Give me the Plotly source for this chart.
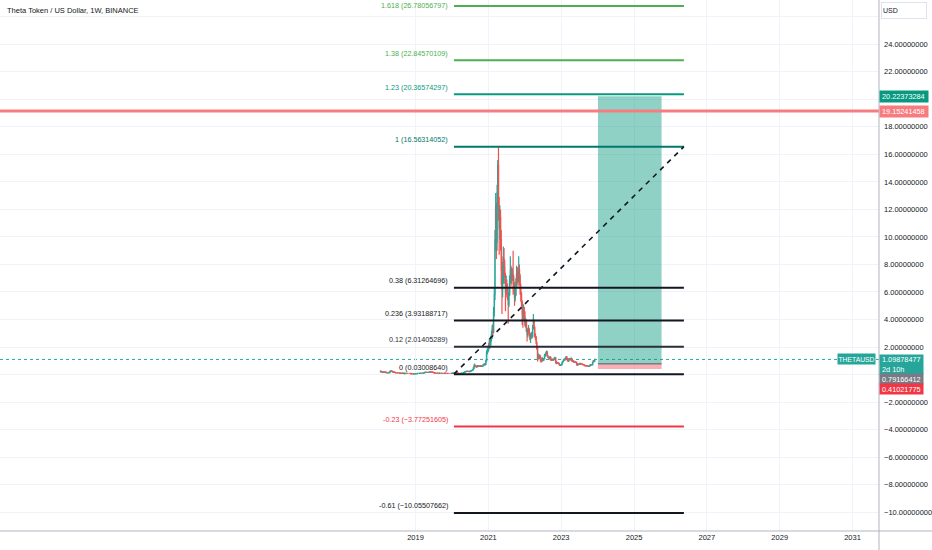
import plotly.graph_objects as go
import pandas as pd

# ---------------- data ----------------
title_text = "Theta Token / US Dollar, 1W, BINANCE"
first_week = "2018-01-15"
first_open = 0.20

closes = [
    # 2018
    0.24, 0.22, 0.17, 0.15, 0.19, 0.18, 0.16, 0.17, 0.13, 0.14, 0.12,
    0.12, 0.13, 0.20, 0.25, 0.27, 0.24, 0.21, 0.16, 0.17, 0.16, 0.13, 0.12, 0.12,
    0.13, 0.12, 0.12, 0.11, 0.10, 0.09, 0.08, 0.09, 0.10, 0.08, 0.07, 0.08, 0.09,
    0.09, 0.08, 0.08, 0.08, 0.08, 0.08, 0.07, 0.05, 0.05, 0.045, 0.04, 0.05, 0.055, 0.06,
    # 2019
    0.06, 0.07, 0.08, 0.08, 0.08, 0.09, 0.11, 0.11, 0.10, 0.10, 0.11, 0.12,
    0.15, 0.17, 0.17, 0.15, 0.15, 0.16, 0.15, 0.17, 0.20, 0.19, 0.18, 0.17, 0.16,
    0.14, 0.12, 0.11, 0.10, 0.10, 0.11, 0.10, 0.10, 0.09, 0.10, 0.10, 0.10, 0.09, 0.09,
    0.09, 0.08, 0.10, 0.09, 0.09, 0.09, 0.08, 0.08, 0.08, 0.08, 0.08, 0.08, 0.09,
    # 2020
    0.10, 0.11, 0.10, 0.11, 0.11, 0.14, 0.12, 0.10, 0.10, 0.06, 0.07, 0.07, 0.08,
    0.10, 0.10, 0.11, 0.14, 0.17, 0.20, 0.22, 0.23, 0.24, 0.23, 0.22, 0.21, 0.23,
    0.26, 0.28, 0.30, 0.35, 0.45, 0.60, 0.65, 0.62, 0.58, 0.58, 0.62, 0.60, 0.62,
    0.60, 0.65, 0.62, 0.60, 0.62, 0.70, 0.72, 0.70, 0.76, 1.00, 1.60, 1.70, 1.90,
    # 2021
    2.10, 2.40, 2.20, 2.60, 2.90, 3.40, 3.10, 4.50, 5.80, 9.80, 12.20, 9.60, 13.20,
    15.20, 12.20, 10.60, 11.40, 9.80, 7.60, 6.20, 6.90, 8.40, 7.80, 7.10, 6.00, 6.60,
    6.20, 5.80, 5.10, 5.90, 6.80, 7.60, 6.90, 7.10, 7.30, 6.90, 6.40, 5.60, 5.80,
    6.70, 7.30, 7.00, 6.90, 7.60, 7.10, 6.20, 5.80, 5.20, 4.40, 4.10, 4.60, 4.20,
    # 2022
    3.60, 3.90, 3.20, 2.90, 3.20, 3.30, 2.90, 2.70, 2.80, 2.90, 2.80, 3.40, 3.90,
    3.40, 2.80, 2.70, 2.30, 1.90, 1.20, 1.30, 1.20, 1.35, 1.20, 1.05, 1.00, 1.10,
    1.05, 1.15, 1.35, 1.40, 1.50, 1.65, 1.35, 1.25, 1.20, 1.15, 1.25, 1.05, 1.05,
    1.10, 1.05, 1.10, 1.15, 1.20, 0.95, 0.85, 0.82, 0.84, 0.82, 0.72, 0.66, 0.68,
    # 2023
    0.72, 0.85, 0.95, 1.05, 1.10, 1.08, 1.20, 1.28, 1.15, 1.05, 1.00, 1.15, 1.10,
    1.08, 1.15, 1.00, 0.98, 0.98, 0.90, 0.92, 0.90, 0.88, 0.78, 0.70, 0.76, 0.74,
    0.74, 0.80, 0.78, 0.76, 0.74, 0.72, 0.70, 0.66, 0.65, 0.63, 0.62, 0.63, 0.61,
    0.60, 0.62, 0.66, 0.72, 0.70, 0.72, 0.90, 1.00, 0.98, 1.09878477,
]

highs = [
    # 2018
    0.30, 0.27, 0.23, 0.18, 0.20, 0.21, 0.19, 0.18, 0.17, 0.15, 0.15,
    0.13, 0.14, 0.21, 0.28, 0.29, 0.28, 0.25, 0.22, 0.18, 0.18, 0.17, 0.14, 0.13,
    0.14, 0.14, 0.13, 0.12, 0.12, 0.10, 0.10, 0.09, 0.11, 0.10, 0.09, 0.09, 0.10,
    0.10, 0.09, 0.09, 0.09, 0.09, 0.09, 0.08, 0.07, 0.06, 0.055, 0.05, 0.055, 0.06, 0.065,
    # 2019
    0.07, 0.08, 0.09, 0.09, 0.09, 0.10, 0.12, 0.12, 0.12, 0.11, 0.12, 0.13,
    0.16, 0.19, 0.19, 0.18, 0.16, 0.17, 0.18, 0.18, 0.22, 0.22, 0.20, 0.19, 0.18,
    0.17, 0.15, 0.13, 0.12, 0.11, 0.12, 0.12, 0.11, 0.11, 0.11, 0.11, 0.11, 0.10, 0.10,
    0.10, 0.09, 0.11, 0.11, 0.10, 0.10, 0.09, 0.09, 0.09, 0.09, 0.09, 0.09, 0.10,
    # 2020
    0.11, 0.12, 0.12, 0.12, 0.13, 0.16, 0.15, 0.13, 0.11, 0.11, 0.08, 0.08, 0.09,
    0.11, 0.11, 0.12, 0.15, 0.19, 0.22, 0.25, 0.26, 0.30, 0.26, 0.25, 0.24, 0.24,
    0.27, 0.30, 0.32, 0.38, 0.55, 0.75, 0.80, 0.70, 0.68, 0.66, 0.70, 0.68, 0.66,
    0.66, 0.68, 0.70, 0.66, 0.66, 0.75, 0.80, 0.82, 0.80, 1.10, 1.75, 1.90, 2.10,
    # 2021
    2.30, 2.60, 2.60, 2.80, 3.20, 3.60, 3.70, 4.90, 6.30, 10.50, 13.20, 12.50, 13.80,
    15.60, 16.56, 12.90, 12.30, 12.00, 10.50, 8.60, 8.20, 9.30, 9.20, 8.30, 7.40, 7.20,
    6.90, 6.60, 6.00, 6.30, 7.20, 8.60, 7.90, 7.80, 7.70, 9.00, 7.20, 6.70, 6.40,
    7.00, 7.90, 7.80, 7.40, 8.60, 8.00, 7.30, 6.60, 6.00, 5.40, 4.80, 5.10, 4.90,
    # 2022
    4.60, 4.10, 4.00, 3.30, 3.40, 3.60, 3.40, 3.00, 3.00, 3.10, 3.10, 3.60, 4.40,
    4.00, 3.50, 3.00, 2.80, 2.40, 2.00, 1.55, 1.45, 1.45, 1.40, 1.25, 1.12, 1.25,
    1.20, 1.20, 1.50, 1.55, 1.65, 1.75, 1.70, 1.40, 1.30, 1.30, 1.35, 1.25, 1.15,
    1.15, 1.15, 1.15, 1.25, 1.30, 1.25, 1.00, 0.92, 0.90, 0.90, 0.85, 0.74, 0.72,
    # 2023
    0.74, 0.88, 0.98, 1.10, 1.15, 1.16, 1.25, 1.35, 1.30, 1.18, 1.08, 1.20, 1.20,
    1.15, 1.25, 1.18, 1.05, 1.05, 1.00, 0.95, 0.96, 0.92, 0.90, 0.80, 0.80, 0.79,
    0.78, 0.88, 0.84, 0.80, 0.78, 0.76, 0.74, 0.72, 0.68, 0.67, 0.65, 0.66, 0.65,
    0.63, 0.64, 0.68, 0.76, 0.75, 0.76, 0.94, 1.05, 1.05, 1.12,
]

lows = [
    # 2018
    0.18, 0.19, 0.16, 0.11, 0.14, 0.16, 0.15, 0.15, 0.12, 0.12, 0.11,
    0.10, 0.12, 0.13, 0.19, 0.24, 0.23, 0.20, 0.15, 0.15, 0.15, 0.12, 0.11, 0.10,
    0.11, 0.11, 0.11, 0.10, 0.09, 0.08, 0.07, 0.07, 0.08, 0.07, 0.06, 0.065, 0.075,
    0.08, 0.075, 0.07, 0.075, 0.07, 0.07, 0.065, 0.045, 0.045, 0.04, 0.035, 0.038, 0.048, 0.053,
    # 2019
    0.055, 0.06, 0.07, 0.075, 0.075, 0.08, 0.09, 0.10, 0.09, 0.09, 0.10, 0.11,
    0.12, 0.14, 0.16, 0.14, 0.14, 0.14, 0.14, 0.14, 0.17, 0.18, 0.17, 0.16, 0.15,
    0.13, 0.11, 0.10, 0.09, 0.09, 0.09, 0.09, 0.09, 0.08, 0.085, 0.09, 0.09, 0.085, 0.08,
    0.08, 0.075, 0.08, 0.085, 0.085, 0.08, 0.075, 0.075, 0.07, 0.075, 0.07, 0.075, 0.078,
    # 2020
    0.085, 0.095, 0.095, 0.095, 0.10, 0.10, 0.11, 0.09, 0.085, 0.04, 0.05, 0.06, 0.065,
    0.075, 0.09, 0.095, 0.10, 0.13, 0.16, 0.19, 0.20, 0.22, 0.21, 0.20, 0.19, 0.20,
    0.22, 0.25, 0.27, 0.29, 0.34, 0.44, 0.55, 0.56, 0.50, 0.50, 0.55, 0.56, 0.57,
    0.57, 0.58, 0.60, 0.56, 0.58, 0.60, 0.66, 0.65, 0.68, 0.74, 0.95, 1.45, 1.60,
    # 2021
    1.70, 1.90, 1.90, 2.10, 2.40, 2.60, 2.80, 3.00, 4.20, 5.40, 9.00, 8.40, 9.00,
    12.00, 11.20, 8.70, 9.80, 9.00, 6.50, 4.40, 5.60, 6.60, 7.20, 6.60, 4.60, 5.80,
    5.60, 5.40, 3.70, 4.90, 5.70, 6.60, 6.40, 6.60, 6.80, 5.80, 5.90, 5.00, 5.30,
    5.70, 6.40, 6.60, 6.40, 6.70, 6.50, 5.80, 5.30, 4.80, 3.60, 3.40, 3.90, 4.00,
    # 2022
    3.50, 3.40, 3.10, 2.40, 2.70, 3.00, 2.80, 2.50, 2.30, 2.60, 2.60, 2.70, 3.30,
    3.30, 2.70, 2.50, 2.20, 1.80, 0.95, 1.10, 1.10, 1.15, 0.95, 0.85, 0.92, 0.98,
    0.98, 1.00, 1.12, 1.30, 1.38, 1.45, 1.30, 1.20, 1.15, 1.10, 1.10, 1.00, 0.98,
    1.02, 1.00, 1.00, 1.08, 1.12, 0.80, 0.75, 0.78, 0.78, 0.78, 0.70, 0.62, 0.64,
    # 2023
    0.66, 0.70, 0.82, 0.92, 1.00, 1.00, 1.05, 1.15, 1.10, 0.95, 0.92, 0.98, 1.05,
    1.02, 1.05, 0.96, 0.92, 0.90, 0.86, 0.86, 0.86, 0.84, 0.65, 0.64, 0.68, 0.70,
    0.70, 0.72, 0.75, 0.72, 0.70, 0.69, 0.66, 0.60, 0.62, 0.60, 0.59, 0.60, 0.58,
    0.58, 0.58, 0.60, 0.65, 0.67, 0.68, 0.70, 0.86, 0.92, 0.96,
]

# Fibonacci extension drawing
fib_start = "2020-01-21"
fib_end = "2026-05-16"
fib_level_text = ["1.618", "1.38", "1.23", "1", "0.38", "0.236", "0.12", "0", "-0.23", "-0.61"]
fib_prices = [26.78056797, 22.84570109, 20.36574297, 16.56314052, 6.31264696,
              3.93188717, 2.01405289, 0.03008640, -3.77251605, -10.05507662]
fib_colors = ["#4caf50", "#4caf50", "#089981", "#00796b", "#131722",
              "#131722", "#2a2e39", "#131722", "#f23645", "#131722"]

# Long position tool
pos_start = "2024-01-05"
pos_end = "2025-10-04"
pos_target = 20.22373284
pos_entry = 0.79166412
pos_stop = 0.41021775

alert_price = 19.15241458
last_price = 1.09878477
countdown = "2d 10h"
symbol = "THETAUSD"

x_tick_vals = ["2019-01-01", "2021-01-01", "2023-01-01", "2025-01-01",
               "2027-01-01", "2029-01-01", "2031-01-01"]
x_tick_text = ["2019", "2021", "2023", "2025", "2027", "2029", "2031"]
y_tick_vals = [-10, -8, -6, -4, -2, 0, 2, 4, 6, 8, 10, 12, 14, 16, 18, 20, 22, 24, 26]
y_tick_text = ["\u221210.00000000", "\u22128.00000000", "\u22126.00000000", "\u22124.00000000",
               "\u22122.00000000", "", "2.00000000", "4.00000000", "6.00000000",
               "8.00000000", "10.00000000", "12.00000000", "14.00000000", "16.00000000",
               "18.00000000", "", "22.00000000", "24.00000000", ""]

x_range = ["2007-08-04", "2031-09-24"]
y_range = [-11.37, 27.22]

# ---------------- figure ----------------
dates = pd.date_range(first_week, periods=len(closes), freq="W-MON")
opens = [first_open] + closes[:-1]

FONT = "Liberation Sans, Arial, sans-serif"
TXT = "#131722"
GREEN = "#26a69a"
RED = "#ef5350"

fig = go.Figure()
fig.add_trace(go.Candlestick(
    x=dates, open=opens, high=highs, low=lows, close=closes,
    increasing=dict(line=dict(color=GREEN, width=1.2), fillcolor=GREEN),
    decreasing=dict(line=dict(color=RED, width=1.2), fillcolor=RED),
    hoverinfo="skip", showlegend=False,
))

shapes = []
# current price dotted line
shapes.append(dict(type="line", xref="paper", x0=0, x1=1, yref="y", y0=last_price, y1=last_price,
                   line=dict(color=GREEN, width=1, dash="dot"), layer="below"))
# position box
shapes.append(dict(type="rect", xref="x", yref="y", x0=pos_start, x1=pos_end,
                   y0=pos_entry, y1=pos_target, fillcolor="rgba(8,153,129,0.45)",
                   line=dict(width=0)))
shapes.append(dict(type="rect", xref="x", yref="y", x0=pos_start, x1=pos_end,
                   y0=pos_stop, y1=pos_entry, fillcolor="rgba(242,54,69,0.40)",
                   line=dict(width=0)))
shapes.append(dict(type="line", xref="x", yref="y", x0=pos_start, x1=pos_end,
                   y0=pos_entry, y1=pos_entry, line=dict(color="#787b86", width=1.5)))
# fib lines
for p, c in zip(fib_prices, fib_colors):
    shapes.append(dict(type="line", xref="x", yref="y", x0=fib_start, x1=fib_end,
                       y0=p, y1=p, line=dict(color=c, width=2)))
# diagonal trend line of the fib tool
shapes.append(dict(type="line", xref="x", yref="y", x0=fib_start, x1=fib_end,
                   y0=fib_prices[7], y1=fib_prices[3],
                   line=dict(color="#131722", width=1.6, dash="5px,5px")))
# alert line
shapes.append(dict(type="line", xref="paper", x0=0, x1=1, yref="y", y0=alert_price, y1=alert_price,
                   line=dict(color="#f77c80", width=3)))
# axis frame lines
shapes.append(dict(type="line", xref="paper", x0=0, x1=932 / 879, yref="paper", y0=0, y1=0,
                   line=dict(color="#b2b5be", width=1)))
shapes.append(dict(type="line", xref="paper", x0=1, x1=1, yref="paper", y0=-19 / 531, y1=1,
                   line=dict(color="#b2b5be", width=1)))

annotations = []
annotations.append(dict(text=title_text, xref="paper", yref="paper", x=0, y=1,
                        xanchor="left", yanchor="top", xshift=5, yshift=-4, showarrow=False,
                        font=dict(family=FONT, size=7.5, color=TXT)))
for i, (lt, p, c) in enumerate(zip(fib_level_text, fib_prices, fib_colors)):
    lab = "%s (%s)" % (lt, ("%.8f" % p).replace("-", "\u2212"))
    annotations.append(dict(text=lab, xref="x", yref="y", x=fib_start, y=p,
                            xanchor="right", yanchor="middle", xshift=-4,
                            yshift=1 if i == 0 else 7,
                            showarrow=False, font=dict(family=FONT, size=7.2, color=c)))


def price_label(text, y, bg, width, height, yshift=0, yanchor="middle"):
    return dict(text=text, xref="paper", yref="y", x=1, y=y, xanchor="left", yanchor=yanchor,
                xshift=0, yshift=yshift, showarrow=False, bgcolor=bg, borderpad=0,
                width=width, height=height, align="left",
                font=dict(family=FONT, size=7.3, color="#ffffff"))


annotations.append(price_label("&nbsp;%.8f" % pos_target, pos_target, "#089981", 48, 11))
annotations.append(price_label("&nbsp;%.8f" % alert_price, alert_price, "#f77c80", 48, 11))
annotations.append(price_label("&nbsp;%.8f<br>&nbsp;%s" % (last_price, countdown), last_price, GREEN,
                               43, 19, yshift=5.4, yanchor="top"))
annotations.append(price_label("&nbsp;%.8f" % pos_entry, pos_entry, "#787b86", 43, 10, yshift=-14.9))
annotations.append(price_label("&nbsp;%.8f" % pos_stop, pos_stop, "#f23645", 43, 10, yshift=-19.6))
annotations.append(dict(text=symbol, xref="paper", yref="y", x=1, y=last_price,
                        xanchor="right", yanchor="middle", xshift=-3, yshift=0.5, showarrow=False,
                        bgcolor=GREEN, borderpad=0, width=37, height=10, align="center",
                        font=dict(family=FONT, size=6.8, color="#ffffff")))
annotations.append(dict(text="USD", xref="paper", yref="paper", x=1, y=1, xanchor="left",
                        yanchor="top", xshift=2, yshift=-2, showarrow=False, width=42, height=13,
                        align="left", bordercolor="#e0e3eb", borderwidth=1, borderpad=1,
                        bgcolor="#ffffff", font=dict(family=FONT, size=7, color=TXT)))

fig.update_layout(
    width=932, height=550,
    margin=dict(l=0, r=53, t=0, b=19),
    paper_bgcolor="#ffffff", plot_bgcolor="#ffffff",
    showlegend=False, hovermode=False,
    shapes=shapes, annotations=annotations,
    xaxis=dict(type="date", range=x_range, rangeslider=dict(visible=False),
               tickvals=x_tick_vals, ticktext=x_tick_text, showgrid=True,
               gridcolor="#f0f3fa", gridwidth=1, showline=False, zeroline=False,
               ticks="", tickfont=dict(family=FONT, size=7.5, color=TXT), fixedrange=True),
    yaxis=dict(side="right", range=y_range, tickvals=y_tick_vals, ticktext=y_tick_text,
               showgrid=True, gridcolor="#f0f3fa", gridwidth=1, zeroline=False,
               showline=False, ticks="", ticklabelstandoff=4,
               tickfont=dict(family=FONT, size=7.5, color=TXT), fixedrange=True),
)

fig.write_html("out.html", config={"displayModeBar": False})
